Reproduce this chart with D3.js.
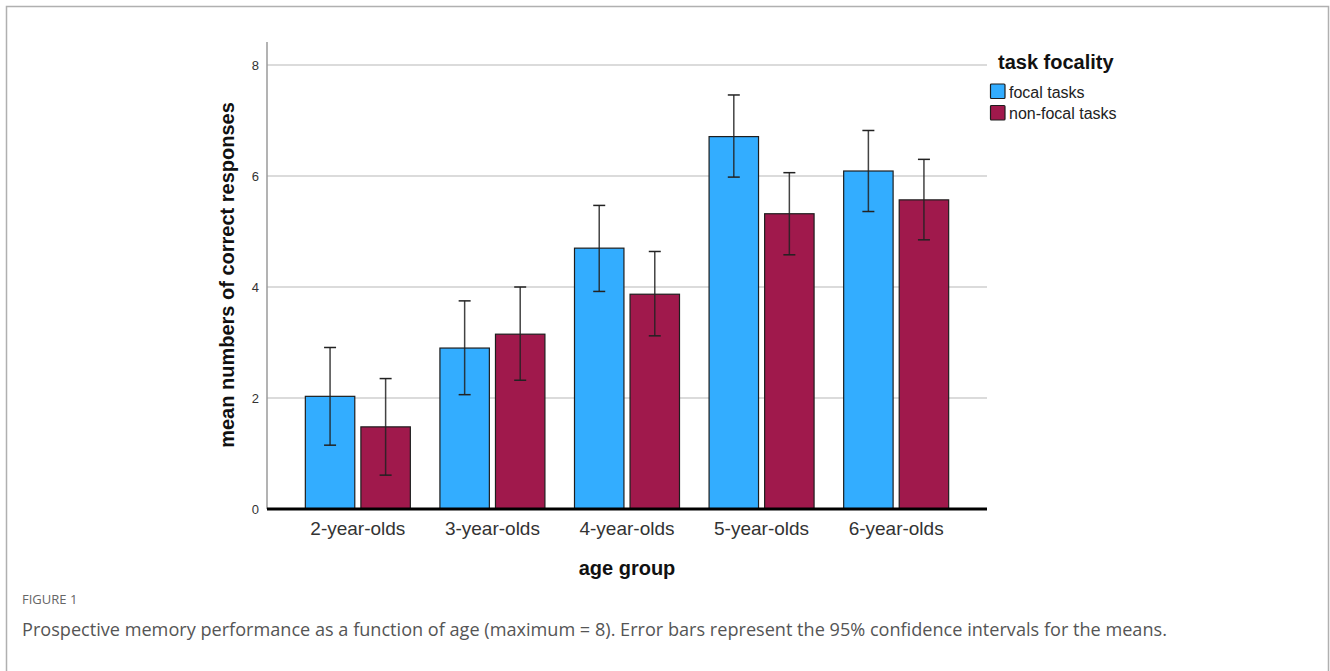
<!DOCTYPE html>
<html><head><meta charset="utf-8">
<script src="https://cdn.jsdelivr.net/npm/d3@7"></script>
<style>
html,body{margin:0;padding:0;background:#fff;}
svg{display:block;}
</style></head>
<body>
<svg id="chart" width="1330" height="671"></svg>
<script>
const categories = ["2-year-olds","3-year-olds","4-year-olds","5-year-olds","6-year-olds"];
const seriesNames = ["focal tasks","non-focal tasks"];
const focalMean = [2.03, 2.90, 4.70, 6.71, 6.09];
const focalLow  = [1.15, 2.06, 3.92, 5.98, 5.36];
const focalHigh = [2.91, 3.75, 5.47, 7.46, 6.82];
const nonFocalMean = [1.48, 3.15, 3.87, 5.32, 5.57];
const nonFocalLow  = [0.61, 2.32, 3.12, 4.58, 4.85];
const nonFocalHigh = [2.35, 4.00, 4.64, 6.06, 6.30];
const yTicks = [0, 2, 4, 6, 8];
const colors = ["#33adff", "#a0194c"];
const yTitle = "mean numbers of correct responses";
const xTitle = "age group";
const legendTitle = "task focality";
const figLabel = "FIGURE 1";
const caption = "Prospective memory performance as a function of age (maximum = 8). Error bars represent the 95% confidence intervals for the means.";

const svg = d3.select("#chart");

// frame
svg.append("path").attr("d","M6.5,671V6.5H1328.5V671")
  .attr("fill","none").attr("stroke","#b0b0b0").attr("stroke-width",1.5);

const plotLeft = 267, plotRight = 987, plotTop = 42;
const y = d3.scaleLinear().domain([0, 8]).range([509, 65]);
const x = d3.scaleBand().domain(categories).range([plotLeft, plotRight]).paddingInner(0).paddingOuter(0.175);
const inner = d3.scaleBand().domain(seriesNames).range([-52.5, 52.5]).paddingInner(0.11);

// gridlines
svg.append("g").selectAll("line").data(yTicks.filter(d => d > 0)).join("line")
  .attr("x1", plotLeft).attr("x2", plotRight)
  .attr("y1", d => y(d)).attr("y2", d => y(d))
  .attr("stroke", "#cfcfcf").attr("stroke-width", 1.5);

// y axis line
svg.append("line").attr("x1", plotLeft).attr("x2", plotLeft).attr("y1", plotTop).attr("y2", y(0))
  .attr("stroke", "#9a9a9a").attr("stroke-width", 1.5);

// y tick labels
svg.append("g").selectAll("text").data(yTicks).join("text")
  .attr("x", 259).attr("y", d => y(d) + 4.5)
  .attr("text-anchor", "end")
  .attr("font-family", "Liberation Sans, Arial, sans-serif")
  .attr("font-size", 13).attr("fill", "#333")
  .text(d => d);

// bars
const rows = categories.map((c, i) => [
  {cat: c, s: seriesNames[0], m: focalMean[i], lo: focalLow[i], hi: focalHigh[i], col: colors[0]},
  {cat: c, s: seriesNames[1], m: nonFocalMean[i], lo: nonFocalLow[i], hi: nonFocalHigh[i], col: colors[1]}
]).flat();

const cx = d => x(d.cat) + x.bandwidth() / 2 + inner(d.s);
svg.append("g").selectAll("rect").data(rows).join("rect")
  .attr("x", d => cx(d))
  .attr("y", d => y(d.m))
  .attr("width", inner.bandwidth())
  .attr("height", d => y(0) - y(d.m))
  .attr("fill", d => d.col)
  .attr("stroke", "#1e1e1e").attr("stroke-width", 1.2);

// error bars
const eb = svg.append("g").attr("stroke", "#222").attr("stroke-width", 1.5).attr("fill", "none");
rows.forEach(d => {
  const mx = cx(d) + inner.bandwidth() / 2;
  eb.append("line").attr("x1", mx).attr("x2", mx).attr("y1", y(d.lo)).attr("y2", y(d.hi)).attr("stroke-opacity", 0.85);
  eb.append("line").attr("x1", mx - 6).attr("x2", mx + 6).attr("y1", y(d.lo)).attr("y2", y(d.lo));
  eb.append("line").attr("x1", mx - 6).attr("x2", mx + 6).attr("y1", y(d.hi)).attr("y2", y(d.hi));
});

// baseline
svg.append("line").attr("x1", plotLeft).attr("x2", plotRight).attr("y1", y(0)).attr("y2", y(0))
  .attr("stroke", "#000").attr("stroke-width", 3);

// x labels
svg.append("g").selectAll("text").data(categories).join("text")
  .attr("x", d => x(d) + x.bandwidth() / 2).attr("y", 535)
  .attr("text-anchor", "middle")
  .attr("font-family", "Liberation Sans, Arial, sans-serif")
  .attr("font-size", 19).attr("fill", "#333")
  .text(d => d);

// axis titles
svg.append("text").attr("x", 627).attr("y", 575).attr("text-anchor", "middle")
  .attr("font-family", "Liberation Sans, Arial, sans-serif").attr("font-weight", "bold")
  .attr("font-size", 20).attr("fill", "#111").text(xTitle);

svg.append("text").attr("transform", "translate(234,275) rotate(-90)").attr("text-anchor", "middle")
  .attr("font-family", "Liberation Sans, Arial, sans-serif").attr("font-weight", "bold")
  .attr("font-size", 20).attr("fill", "#111").text(yTitle);

// legend
svg.append("text").attr("x", 998).attr("y", 69)
  .attr("font-family", "Liberation Sans, Arial, sans-serif").attr("font-weight", "bold")
  .attr("font-size", 20).attr("fill", "#111").text(legendTitle);
const lg = svg.append("g").selectAll("g").data(seriesNames).join("g")
  .attr("transform", (d, i) => `translate(990.5,${84 + i * 21.5})`);
lg.append("rect").attr("width", 14.5).attr("height", 14.5).attr("rx", 1)
  .attr("fill", (d, i) => colors[i]).attr("stroke", "#1e1e1e").attr("stroke-width", 1.2);
lg.append("text").attr("x", 18.5).attr("y", 13.5)
  .attr("font-family", "Liberation Sans, Arial, sans-serif")
  .attr("font-size", 16).attr("fill", "#222").text(d => d);

// caption
svg.append("text").attr("x", 22).attr("y", 604)
  .attr("font-family", "Open Sans, Noto Sans, sans-serif")
  .attr("font-size", 13).attr("fill", "#666").text(figLabel);
const cap = svg.append("text").attr("x", 22).attr("y", 636)
  .attr("font-family", "Open Sans, Noto Sans, sans-serif")
  .attr("font-size", 16).attr("fill", "#555").text(caption);
const w = cap.node().getComputedTextLength();
if (w > 0) cap.attr("font-size", 16 * 1145 / w);
</script>
</body></html>
